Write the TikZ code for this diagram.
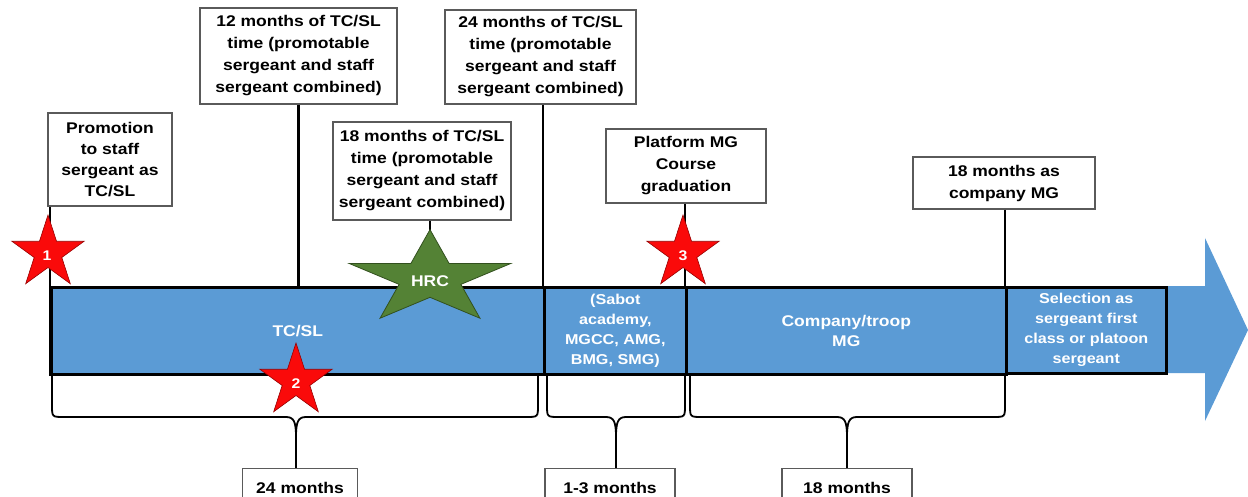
\documentclass[tikz,border=0pt]{standalone}
\usepackage{fontspec}
\setmainfont{Liberation Sans}[FakeStretch=1.13]
\usetikzlibrary{calc}
\definecolor{barblue}{RGB}{91,155,213}
\definecolor{starred}{RGB}{250,10,10}
\definecolor{stardark}{RGB}{150,0,0}
\definecolor{stargreen}{RGB}{84,130,53}
\definecolor{greendark}{RGB}{50,80,30}
\definecolor{boxgray}{RGB}{90,90,90}
\tikzset{
  infobox/.style={draw=boxgray, line width=1.3pt, fill=white, align=center,
    font=\fontsize{15.5}{22}\selectfont\bfseries, inner sep=0pt},
  seg/.style={draw=black, line width=2.6pt, fill=barblue, text=white, align=center,
    inner sep=0pt, anchor=north west},
  segfont/.style={font=\fontsize{15.5}{20}\selectfont\bfseries},
  segsmall/.style={font=\fontsize{14.3}{20}\selectfont\bfseries},
  conn/.style={draw=black, line width=2.4pt},
  bracepath/.style={draw=black, line width=1.8pt},
  startxt/.style={text=white, font=\fontsize{14}{14}\selectfont\bfseries, inner sep=0pt},
  starpic/.pic={\path[pic actions] (-90:1) -- (-54:0.382) -- (-18:1) -- (18:0.382) -- (54:1)
     -- (90:0.382) -- (126:1) -- (162:0.382) -- (198:1) -- (234:0.382) -- cycle;},
  redstar/.style={fill=starred, draw=stardark, line width=0.6pt},
  greenstar/.style={fill=stargreen, draw=greendark, line width=0.8pt}
}
\begin{document}
\begin{tikzpicture}[x=1pt,y=-1pt]
\useasboundingbox (0,0) rectangle (1248,497);
\clip (0,0) rectangle (1248,497);

% arrow body
\fill[barblue] (50,286) -- (1205,286) -- (1205,238) -- (1248,330) -- (1205,421)
  -- (1205,373) -- (50,373) -- cycle;

% bar segments
\node[seg, segfont, minimum width=493, minimum height=87] (tcsl) at (50,286) {TC/SL};
\node[seg, segsmall, minimum width=142, minimum height=87] (sabot) at (543,286)
  {(Sabot\\academy,\\MGCC, AMG,\\BMG, SMG)};
\node[seg, segfont, minimum width=320, minimum height=87] (comp) at (685,286)
  {Company/troop\\MG};
\node[seg, segsmall, minimum width=160, minimum height=86] (sel) at (1005,286)
  {Selection as\\sergeant first\\class or platoon\\sergeant};

% top boxes
\node[infobox, minimum width=124, minimum height=93, font=\fontsize{15.5}{21.3}\selectfont\bfseries] (b1) at (110,159.5)
  {Promotion\\to staff\\sergeant as\\TC/SL};
\node[infobox, minimum width=197, minimum height=96] (b12) at (298.5,56)
  {12 months of TC/SL\\time (promotable\\sergeant and staff\\sergeant combined)};
\node[infobox, minimum width=191, minimum height=94] (b24) at (540.5,57)
  {24 months of TC/SL\\time (promotable\\sergeant and staff\\sergeant combined)};
\node[infobox, minimum width=178, minimum height=98] (b18) at (422,171)
  {18 months of TC/SL\\time (promotable\\sergeant and staff\\sergeant combined)};
\node[infobox, minimum width=160, minimum height=74] (pmg) at (686,166)
  {Platform MG\\Course\\graduation};
\node[infobox, minimum width=182, minimum height=52] (b18c) at (1004,183)
  {18 months as\\company MG};

% bottom boxes
\node[infobox, minimum width=115, minimum height=38, anchor=north] (m24) at (300,468) {24 months};
\node[infobox, minimum width=130, minimum height=38, anchor=north] (m13) at (610,468) {1-3 months};
\node[infobox, minimum width=130, minimum height=38, anchor=north] (m18) at (847,468) {18 months};

% connectors from boxes to bar
\coordinate (hrctop) at (430,229.6);
\draw[conn] (b1.south -| tcsl.west) -- (tcsl.south west);
\draw[conn] (b12.south) -- (b12.south |- tcsl.north);
\draw[conn] (b24.south -| sabot.west) -- (sabot.north west);
\draw[conn] (b18.south -| hrctop) -- (hrctop);
\draw[conn] (pmg.south -| comp.west) -- (comp.north west);
\draw[conn] (b18c.south -| sel.west) -- (sel.north west);

% braces
\coordinate (t1) at (296,437);
\coordinate (t2) at (616,437);
\coordinate (t3) at (847,437);
\draw[bracepath] (52,376) -- (52,405) .. controls (52,417) .. (64,417) -- (286,417)
  .. controls (294,417) and (296,422) .. (t1) .. controls (296,422) and (298,417) .. (306,417)
  -- (526,417) .. controls (538,417) .. (538,405) -- (538,376);
\draw[bracepath] (547,376) -- (547,405) .. controls (547,417) .. (559,417) -- (606,417)
  .. controls (614,417) and (616,422) .. (t2) .. controls (616,422) and (618,417) .. (626,417)
  -- (673,417) .. controls (685,417) .. (685,405) -- (685,376);
\draw[bracepath] (690,376) -- (690,405) .. controls (690,417) .. (702,417) -- (837,417)
  .. controls (845,417) and (847,422) .. (t3) .. controls (847,422) and (849,417) .. (857,417)
  -- (993,417) .. controls (1005,417) .. (1005,405) -- (1005,376);
\draw[bracepath] (t1) -- (t1 |- m24.north);
\draw[bracepath] (t2) -- (t2 |- m13.north);
\draw[bracepath] (t3) -- (t3 |- m18.north);

% stars
\pic[redstar, scale=38] at (48,253) {starpic};
\node[startxt] (s1) at (47,256) {1};
\pic[redstar, scale=38] at (296,381) {starpic};
\node[startxt] (s2) at (296,384) {2};
\pic[redstar, scale=38] at (683,253) {starpic};
\node[startxt] (s3) at (683,256) {3};
\pic[greenstar, xscale=85, yscale=49] at (430,278.6) {starpic};
\node[startxt, font=\fontsize{15.5}{15}\selectfont\bfseries] (hrc) at (430,281) {HRC};
\end{tikzpicture}
\end{document}
